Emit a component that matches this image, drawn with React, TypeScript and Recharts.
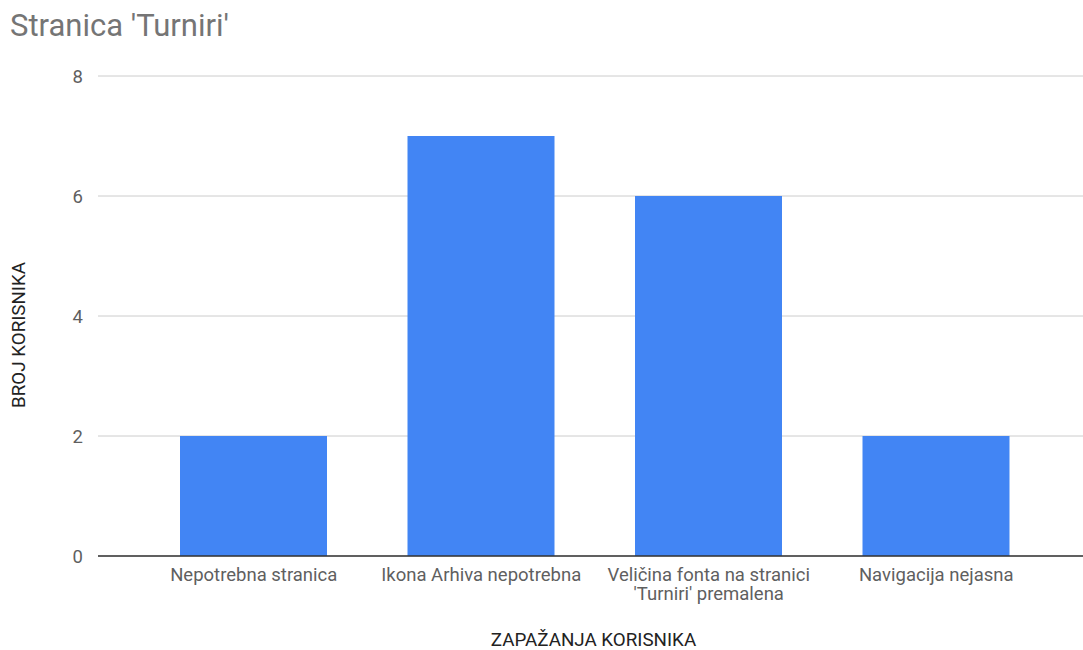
import React from 'react';
import { BarChart, Bar, XAxis, YAxis, CartesianGrid } from 'recharts';

const categories = [
  'Nepotrebna stranica',
  'Ikona Arhiva nepotrebna',
  "Veličina fonta na stranici\n'Turniri' premalena",
  'Navigacija nejasna',
];
const userCounts = [2, 7, 6, 2];
const yTicks = [0, 2, 4, 6, 8];

const title = "Stranica 'Turniri'";
const yTitle = 'BROJ KORISNIKA';
const xTitle = 'ZAPAŽANJA KORISNIKA';

const data = categories.map((c, i) => ({ name: c, value: userCounts[i] }));

const FONT = 'Roboto, Arial, sans-serif';

const CategoryTick = (props: any) => {
  const { x, y, payload } = props;
  const lines = String(payload.value).split('\n');
  return (
    <text x={x} y={y} textAnchor="middle" fill="#5f5f5f" fontSize={18.5} fontFamily={FONT}>
      {lines.map((l: string, i: number) => (
        <tspan key={i} x={x} dy={i === 0 ? 16.5 : 19}>
          {l}
        </tspan>
      ))}
    </text>
  );
};

export default function App() {
  return (
    <div style={{ position: 'absolute', left: 0, top: 0, width: 1083, height: 650, background: '#fff' }}>
      <div
        style={{
          position: 'absolute',
          left: 10,
          top: 10,
          fontFamily: FONT,
          fontSize: 31,
          lineHeight: 1,
          color: '#757575',
          whiteSpace: 'nowrap',
        }}
      >
        {title}
      </div>
      <BarChart
        width={1083}
        height={650}
        data={data}
        margin={{ top: 76, right: 0, left: 0, bottom: 0 }}
      >
        <CartesianGrid vertical={false} stroke="#cccccc" />
        <YAxis
          width={98}
          domain={[0, 8]}
          ticks={yTicks}
          axisLine={false}
          tickLine={false}
          tickMargin={9}
          tick={{ fill: '#5f5f5f', fontSize: 18.5, fontFamily: FONT }}
          label={{
            content: (p: any) => {
              const vb = p.viewBox || { x: 0, y: 76, width: 98, height: 480 };
              const cx = 25;
              const cy = vb.y + vb.height / 2 + 19;
              return (
                <text
                  x={cx}
                  y={cy}
                  transform={`rotate(-90 ${cx} ${cy})`}
                  textAnchor="middle"
                  fill="#222"
                  fontSize={18.8}
                  fontFamily={FONT}
                >
                  {yTitle}
                </text>
              );
            },
          }}
        />
        <XAxis
          dataKey="name"
          height={94}
          padding={{ left: 42, right: 33 }}
          axisLine={{ stroke: '#333333', strokeWidth: 1.5 }}
          tickLine={false}
          interval={0}
          tick={<CategoryTick />}
          label={{
            content: (p: any) => {
              const vb = p.viewBox || { x: 98, y: 556, width: 985, height: 94 };
              const cx = vb.x + vb.width / 2 + 3;
              return (
                <text
                  x={cx}
                  y={646}
                  textAnchor="middle"
                  fill="#222"
                  fontSize={18.8}
                  fontFamily={FONT}
                >
                  {xTitle}
                </text>
              );
            },
          }}
        />
        <Bar dataKey="value" fill="#4285F4" barSize={147} isAnimationActive={false} />
      </BarChart>
    </div>
  );
}
